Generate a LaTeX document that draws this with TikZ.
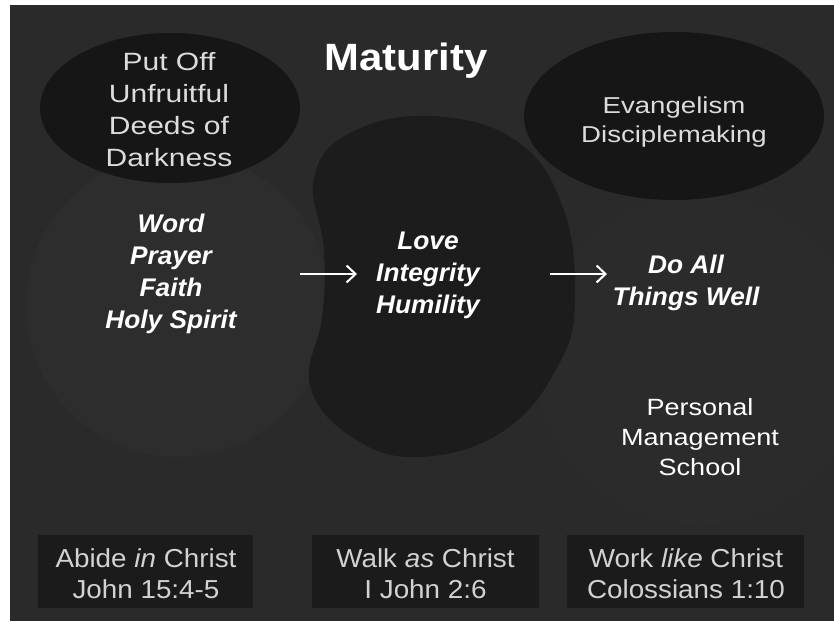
\documentclass[tikz,border=0pt]{standalone}
\usepackage{fontspec}
\setmainfont{Liberation Sans}
\newfontfamily\titlefont{Liberation Sans}[FakeStretch=1.1]
\newfontfamily\ellfont{Liberation Sans}[FakeStretch=1.2]
\newfontfamily\boxfont{Liberation Sans}[FakeStretch=1.07]
\newfontfamily\pmsfont{Liberation Sans}[FakeStretch=1.15]
\newfontfamily\bifont{Liberation Sans}[FakeStretch=1.03]
\usetikzlibrary{arrows.meta}
\definecolor{bg}{HTML}{2A2A2A}
\definecolor{bglight}{HTML}{2D2D2D}
\definecolor{ellfill}{HTML}{161616}
\definecolor{blobfill}{HTML}{1C1C1C}
\definecolor{boxfill}{HTML}{1B1B1B}
\definecolor{softtext}{HTML}{DCDCDC}
\definecolor{boxtext}{HTML}{D2D2D2}
\tikzset{
  lines/.style={inner sep=0pt, align=center, anchor=base},
  elltext/.style={lines, text=softtext, font=\ellfont\fontsize{25}{31.7}\selectfont},
  bitext/.style={lines, text=white, font=\bifont\bfseries\itshape\fontsize{25.5}{31.7}\selectfont},
  boxlabel/.style={lines, text=boxtext, font=\boxfont\fontsize{26}{31}\selectfont},
  panel/.style={fill=boxfill, draw=none},
  arr/.style={draw=white, line width=1.8pt, -{Straight Barb[length=9pt,width=17pt,line width=2pt]}}
}
\begin{document}
\begin{tikzpicture}[x=1pt,y=-1pt]
\useasboundingbox (0,0) rectangle (834,621);
\fill[white] (0,0) rectangle (834,621);
\fill[bg] (10,5) rectangle (834,621);
% faint lighter circles
\fill[bglight] (178,305) circle (152);
\fill[bglight!40!bg] (700,360) circle (165);
% ellipses
\fill[ellfill] (170,108) ellipse [x radius=130, y radius=75];
\fill[ellfill] (674,116) ellipse [x radius=150, y radius=84];
% middle blob
\fill[blobfill] plot[smooth cycle, tension=0.7] coordinates {(430,116) (515,140) (562,205) (575,295) (560,362) (505,430) (420,457) (352,437) (310,385) (322,318) (324,250) (314,178) (350,133)};
% title
\node[lines, text=white, font=\titlefont\bfseries\fontsize{38}{40}\selectfont] (title) at (406,70) {Maturity};
% ellipse texts (anchor = baseline of last line)
\node[elltext] (putoff) at (169,166) {Put Off\\Unfruitful\\Deeds of\\Darkness};
\node[elltext, font=\ellfont\fontsize{23}{29}\selectfont] (evang) at (674,142) {Evangelism\\Disciplemaking};
% bold italic columns
\node[bitext] (wpf) at (171,328) {Word\\Prayer\\Faith\\Holy Spirit};
\node[bitext] (lih) at (428,313) {Love\\Integrity\\Humility};
\node[bitext] (dat) at (686,305) {Do All\\Things Well};
\coordinate (a1s) at (300,274);
\coordinate (a1e) at (357,274);
\coordinate (a2s) at (550,274);
\coordinate (a2e) at (607,274);
\draw[arr] (a1s) -- (a1e);
\draw[arr] (a2s) -- (a2e);
% personal management school
\node[lines, text=white, font=\pmsfont\fontsize{23.5}{29.8}\selectfont] (pms) at (700,475) {Personal\\Management\\School};
% bottom panels
\fill[panel] (38,535) rectangle (253,608);
\fill[panel] (312,535) rectangle (539,608);
\fill[panel] (567,535) rectangle (804,608);
\node[boxlabel] (abide) at (146,598) {Abide \textit{in} Christ\\John 15:4-5};
\node[boxlabel] (walk) at (425.5,598) {Walk \textit{as} Christ\\I John 2:6};
\node[boxlabel] (work) at (686,598) {Work \textit{like} Christ\\Colossians 1:10};
\end{tikzpicture}
\end{document}
